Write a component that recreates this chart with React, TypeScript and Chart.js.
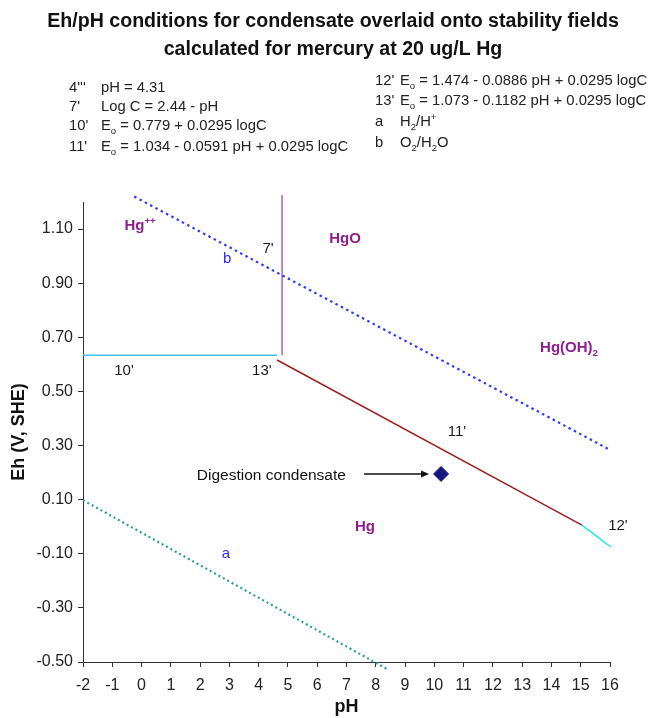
import React, { useEffect, useRef } from "react";
import { Chart, registerables } from "chart.js";

Chart.register(...registerables);

const FONT = "'Liberation Sans', Arial, Helvetica, sans-serif";

// ---- text content ----
const titleLines = [
  "Eh/pH conditions for condensate overlaid onto stability fields",
  "calculated for mercury at 20 ug/L Hg",
];
const eqLeftKeys = ["4'''", "7'", "10'", "11'"];
const eqLeftTexts = [
  "pH = 4.31",
  "Log C = 2.44 - pH",
  "E_o = 0.779 + 0.0295 logC",
  "E_o = 1.034 - 0.0591 pH + 0.0295 logC",
];
const eqRightKeys = ["12'", "13'", "a", "b"];
const eqRightTexts = [
  "E_o = 1.474 - 0.0886 pH + 0.0295 logC",
  "E_o = 1.073 - 0.1182 pH + 0.0295 logC",
  "H_2/H^+",
  "O_2/H_2O",
];

// ---- axes ----
const xTicks = [-2, -1, 0, 1, 2, 3, 4, 5, 6, 7, 8, 9, 10, 11, 12, 13, 14, 15, 16];
const yTicks = [-0.5, -0.3, -0.1, 0.1, 0.3, 0.5, 0.7, 0.9, 1.1];
const xTitle = "pH";
const yTitle = "Eh (V, SHE)";

// ---- boundary lines [pH, Eh] ----
const lineA = [[-2, 0.098], [8.45, -0.53]]; // H2/H+
const lineB = [[-0.25, 1.22], [15.95, 0.287]]; // O2/H2O
const line10 = [[-2, 0.634], [4.63, 0.634]];
const line4 = [[4.8, 0.634], [4.8, 1.226]];
const line11 = [[4.63, 0.616], [15.04, 0.006]];
const line12 = [[15.04, 0.006], [16.03, -0.075]];

// ---- condensate point ----
const condensatePH = [10.23];
const condensateEh = [0.195];
const condensateLabel = "Digestion condensate";
const labelEndPH = 6.98;
const arrowFromPH = 7.6;
const arrowToPH = 9.82;

// ---- field labels ----
const fieldNames = ["Hg^{++}", "HgO", "Hg(OH)_2", "Hg"];
const fieldPH = [-0.05, 6.95, 14.6, 7.63];
const fieldEh = [1.115, 1.067, 0.664, 0.003];

// ---- line labels ----
const lineNames = ["7'", "10'", "13'", "11'", "12'"];
const linePH = [4.32, -0.6, 4.11, 10.77, 16.27];
const lineEh = [1.03, 0.579, 0.579, 0.357, 0.006];

const redoxNames = ["a", "b"];
const redoxPH = [2.88, 2.92];
const redoxEh = [-0.097, 0.993];

type Seg = { t: string; m: "n" | "sub" | "sup" };

function parseRich(s: string): Seg[] {
  const segs: Seg[] = [];
  let buf = "";
  let i = 0;
  while (i < s.length) {
    const c = s[i];
    if (c === "_" || c === "^") {
      if (buf) {
        segs.push({ t: buf, m: "n" });
        buf = "";
      }
      let t: string;
      if (s[i + 1] === "{") {
        const j = s.indexOf("}", i + 2);
        t = s.slice(i + 2, j);
        i = j + 1;
      } else {
        t = s[i + 1];
        i += 2;
      }
      segs.push({ t, m: c === "_" ? "sub" : "sup" });
    } else {
      buf += c;
      i++;
    }
  }
  if (buf) segs.push({ t: buf, m: "n" });
  return segs;
}

function drawRich(
  ctx: CanvasRenderingContext2D,
  text: string,
  x: number,
  y: number,
  size: number,
  weight: string,
  color: string,
  align: "left" | "center" | "right"
) {
  const segs = parseRich(text);
  const fontFor = (m: string) =>
    `${weight} ${m === "n" ? size : size * 0.65}px ${FONT}`;
  let total = 0;
  const widths: number[] = [];
  for (const s of segs) {
    ctx.font = fontFor(s.m);
    const w = ctx.measureText(s.t).width;
    widths.push(w);
    total += w;
  }
  let cx = align === "left" ? x : align === "center" ? x - total / 2 : x - total;
  const base = y + size * 0.36;
  ctx.fillStyle = color;
  ctx.textAlign = "left";
  ctx.textBaseline = "alphabetic";
  segs.forEach((s, k) => {
    ctx.font = fontFor(s.m);
    let by = base;
    if (s.m === "sub") by = base + size * 0.22;
    if (s.m === "sup") by = base - size * 0.42;
    ctx.fillText(s.t, cx, by);
    cx += widths[k];
  });
}

const pts = (arr: number[][]) => arr.map((p) => ({ x: p[0], y: p[1] }));

const overlayPlugin = {
  id: "overlay",
  afterDraw(chart: any) {
    const ctx: CanvasRenderingContext2D = chart.ctx;
    const xs = chart.scales.x;
    const ys = chart.scales.y;
    ctx.save();

    // title
    titleLines.forEach((t, i) => {
      ctx.font = `bold 19.6px ${FONT}`;
      ctx.fillStyle = "#111";
      ctx.textAlign = "center";
      ctx.textBaseline = "middle";
      ctx.fillText(t, 333, 22 + i * 28);
    });

    // equations
    const leftY = [87, 106, 125, 146];
    eqLeftKeys.forEach((k, i) => {
      drawRich(ctx, k, 69, leftY[i], 14.8, "normal", "#222", "left");
      drawRich(ctx, eqLeftTexts[i], 101, leftY[i], 14.8, "normal", "#222", "left");
    });
    const rightY = [80, 100, 121, 142];
    eqRightKeys.forEach((k, i) => {
      drawRich(ctx, k, 375, rightY[i], 14.8, "normal", "#222", "left");
      drawRich(ctx, eqRightTexts[i], 400, rightY[i], 14.8, "normal", "#222", "left");
    });

    // field labels
    fieldNames.forEach((n, i) => {
      drawRich(
        ctx,
        n,
        xs.getPixelForValue(fieldPH[i]),
        ys.getPixelForValue(fieldEh[i]),
        15,
        "bold",
        "#8e1f8e",
        "center"
      );
    });
    // line labels
    lineNames.forEach((n, i) => {
      drawRich(
        ctx,
        n,
        xs.getPixelForValue(linePH[i]),
        ys.getPixelForValue(lineEh[i]),
        15,
        "normal",
        "#1a1a1a",
        "center"
      );
    });
    redoxNames.forEach((n, i) => {
      drawRich(
        ctx,
        n,
        xs.getPixelForValue(redoxPH[i]),
        ys.getPixelForValue(redoxEh[i]),
        15,
        "normal",
        "#2a2aff",
        "center"
      );
    });

    // condensate label + arrow
    const cy = ys.getPixelForValue(condensateEh[0]);
    drawRich(
      ctx,
      condensateLabel,
      xs.getPixelForValue(labelEndPH),
      cy,
      15.5,
      "normal",
      "#111",
      "right"
    );
    const ax0 = xs.getPixelForValue(arrowFromPH);
    const ax1 = xs.getPixelForValue(arrowToPH);
    ctx.strokeStyle = "#111";
    ctx.lineWidth = 1.5;
    ctx.beginPath();
    ctx.moveTo(ax0, cy);
    ctx.lineTo(ax1 - 6, cy);
    ctx.stroke();
    ctx.fillStyle = "#111";
    ctx.beginPath();
    ctx.moveTo(ax1, cy);
    ctx.lineTo(ax1 - 8, cy - 3.5);
    ctx.lineTo(ax1 - 8, cy + 3.5);
    ctx.closePath();
    ctx.fill();

    ctx.restore();
  },
};

export default function App() {
  const ref = useRef<HTMLCanvasElement | null>(null);

  useEffect(() => {
    if (!ref.current) return;
    const solid = (data: number[][], color: string, width = 1.5) => ({
      data: pts(data),
      showLine: true,
      borderColor: color,
      backgroundColor: color,
      borderWidth: width,
      pointRadius: 0,
      clip: false as const,
    });
    const chart = new Chart(ref.current, {
      type: "scatter",
      data: {
        datasets: [
          {
            ...solid(lineA, "#2a9d9d", 2.2),
            borderDash: [2, 3],
          },
          {
            ...solid(lineB, "#2d3cf5", 2.2),
            borderDash: [2.5, 3.5],
          },
          solid(line10, "#38c4ee"),
          solid(line4, "#b062b0"),
          solid(line11, "#9b2020"),
          solid(line12, "#1ee3f2"),
          {
            data: condensatePH.map((p, i) => ({ x: p, y: condensateEh[i] })),
            showLine: false,
            pointStyle: "rectRot",
            pointRadius: 7.5,
            backgroundColor: "#161680",
            borderColor: "#161680",
            borderWidth: 1,
          },
        ] as any,
      },
      options: {
        responsive: false,
        animation: false,
        layout: { padding: { left: 0, right: 44, top: 202, bottom: 0 } },
        plugins: {
          legend: { display: false },
          tooltip: { enabled: false },
          title: { display: false },
        },
        scales: {
          x: {
            type: "linear",
            min: -2,
            max: 16,
            afterBuildTicks: (s: any) => {
              s.ticks = xTicks.map((v) => ({ value: v }));
            },
            afterFit: (s: any) => {
              s.height = 56;
            },
            grid: {
              drawOnChartArea: false,
              drawTicks: true,
              tickLength: 5,
              color: "#333",
            },
            border: { display: true, color: "#333", width: 1 },
            ticks: {
              font: { size: 16, family: FONT },
              color: "#222",
              padding: 9,
              maxRotation: 0,
              autoSkip: false,
              callback: (v: any) => String(v),
            },
            title: {
              display: true,
              text: xTitle,
              font: { size: 18, weight: "bold", family: FONT },
              color: "#111",
              padding: { top: 0, bottom: 0 },
            },
          },
          y: {
            type: "linear",
            min: -0.5,
            max: 1.2,
            afterBuildTicks: (s: any) => {
              s.ticks = yTicks.map((v) => ({ value: v }));
            },
            afterFit: (s: any) => {
              s.width = 83;
            },
            grid: {
              drawOnChartArea: false,
              drawTicks: true,
              tickLength: 5,
              color: "#333",
            },
            border: { display: true, color: "#333", width: 1 },
            ticks: {
              font: { size: 16, family: FONT },
              color: "#222",
              padding: 5,
              autoSkip: false,
              callback: (v: any) => Number(v).toFixed(2),
            },
            title: {
              display: true,
              text: yTitle,
              font: { size: 18, weight: "bold", family: FONT },
              color: "#111",
              padding: { top: 8, bottom: 0 },
            },
          },
        },
      } as any,
      plugins: [overlayPlugin],
    });
    return () => chart.destroy();
  }, []);

  return (
    <div style={{ position: "absolute", left: 0, top: 0, width: 654, height: 718, background: "#fff" }}>
      <canvas ref={ref} width={654} height={718} style={{ display: "block" }} />
    </div>
  );
}
